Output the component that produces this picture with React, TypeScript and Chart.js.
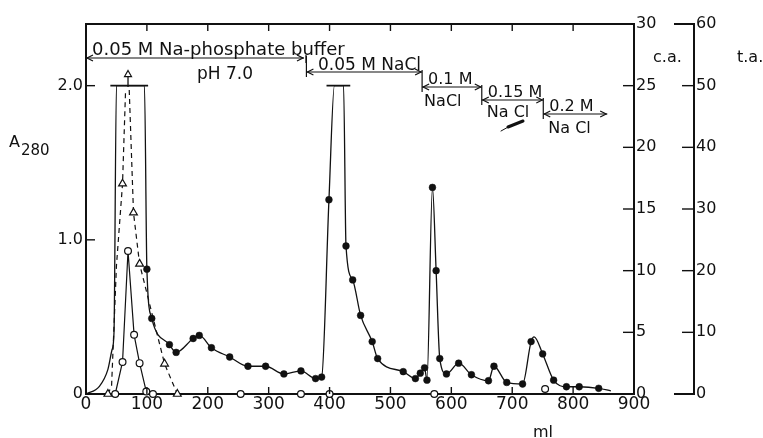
import React, { useEffect, useRef } from 'react';
import { Chart, registerables } from 'chart.js';

Chart.register(...registerables);

// ---------- data ----------
const X_TICKS = [0, 100, 200, 300, 400, 500, 600, 700, 800, 900];
const A280_TICKS = [0, 1.0, 2.0];
const CA_TICKS = [0, 5, 10, 15, 20, 25, 30];
const TA_TICKS = [0, 10, 20, 30, 40, 50, 60];

// A280 (filled circles, solid line)
const A280_ML = [100, 108, 137, 148, 176, 186, 206, 236, 266, 295, 325, 353, 377, 387, 399, 427, 438, 451, 470, 479, 521, 541, 549, 556, 560, 569, 575, 581, 592, 612, 633, 661, 670, 691, 717, 731, 750, 768, 789, 810, 842];
const A280_VAL = [0.81, 0.49, 0.32, 0.27, 0.36, 0.38, 0.30, 0.24, 0.18, 0.18, 0.13, 0.15, 0.10, 0.11, 1.26, 0.96, 0.74, 0.51, 0.34, 0.23, 0.145, 0.10, 0.135, 0.17, 0.09, 1.34, 0.80, 0.23, 0.13, 0.20, 0.125, 0.086, 0.18, 0.075, 0.065, 0.34, 0.26, 0.09, 0.047, 0.047, 0.037];
// points of the drawn curve without a marker (unsampled rise, off-scale tops, tail)
const A280_TRACE_ML = [0, 22, 36, 43, 46, 50, 96, 408, 423, 736, 862];
const A280_TRACE_VAL = [0, 0.05, 0.16, 0.29, 0.40, 2.0, 2.0, 2.0, 2.0, 0.37, 0.02];
// off-scale caps of the two clipped peaks
const A280_CLIP_FROM = [40, 395];
const A280_CLIP_TO = [102, 434];
const A280_CLIP_VAL = 2.0;

// c.a. (open circles, solid line over the first peak)
const CA_ML = [48, 60, 69, 79, 88, 99, 110, 254, 353, 400, 572, 754];
const CA_VAL = [0, 2.6, 11.6, 4.8, 2.5, 0.2, 0, 0, 0, 0, 0, 0.4];
const CA_LINKED = 7;

// t.a. (open triangles, dashed line; peak off scale)
const TA_ML = [36, 60, 78, 88, 129, 150];
const TA_VAL = [0, 34.1, 29.4, 21.1, 4.9, 0];
const TA_RISE_ML = [36, 42, 50, 60, 65];
const TA_RISE_VAL = [0, 1.3, 20.8, 34.1, 49.3];
const TA_FALL_ML = [71, 78, 88, 129, 150];
const TA_FALL_VAL = [49.3, 29.4, 21.1, 4.9, 0];
const TA_OFF_ML = 69;
const TA_OFF_VAL = [49.8, 51.8];

// elution steps
const STEP_START_ML = [0, 362, 552, 650, 751];
const STEP_END_ML = [358, 552, 650, 751, 856];
const STEP_TOP = ['0.05 M Na-phosphate buffer', '0.05 M NaCl', '0.1 M', '0.15 M', '0.2 M'];
const STEP_BOTTOM = ['pH 7.0', '', 'NaCl', 'Na Cl', 'Na Cl'];

const INK = '#111111';
const FONT = '"DejaVu Sans", sans-serif';

const pts = (xs: number[], ys: number[]) => xs.map((x, i) => ({ x, y: ys[i] }));

function arrowHead(ctx: CanvasRenderingContext2D, x: number, y: number, dir: number) {
  ctx.beginPath();
  ctx.moveTo(x - dir * 6, y - 3);
  ctx.lineTo(x, y);
  ctx.lineTo(x - dir * 6, y + 3);
  ctx.stroke();
}

const decoPlugin = {
  id: 'deco',
  afterDraw(chart: any) {
    const { ctx, chartArea: a, scales } = chart;
    const xs = scales.x, ys = scales.y, ca = scales.ca, ta = scales.ta;
    const line = (x1: number, y1: number, x2: number, y2: number) => {
      ctx.beginPath(); ctx.moveTo(x1, y1); ctx.lineTo(x2, y2); ctx.stroke();
    };
    ctx.save();
    ctx.strokeStyle = INK;
    ctx.fillStyle = INK;
    ctx.lineCap = 'butt';
    // top frame
    ctx.lineWidth = 2;
    line(a.left - 1, a.top, a.right + 1, a.top);
    // inner ticks
    ctx.lineWidth = 1.4;
    X_TICKS.slice(1, -1).forEach(v => {
      const px = xs.getPixelForValue(v);
      line(px, a.top, px, a.top + 7);
      line(px, a.bottom, px, a.bottom - 7);
    });
    A280_TICKS.slice(1).forEach(v => {
      const py = ys.getPixelForValue(v);
      line(a.left, py, a.left + 9, py);
    });
    CA_TICKS.slice(1, -1).forEach(v => {
      const py = ca.getPixelForValue(v);
      line(a.right - 11, py, a.right, py);
    });
    const tx = ta.left;
    TA_TICKS.slice(1, -1).forEach(v => {
      const py = ta.getPixelForValue(v);
      line(tx - 12, py, tx, py);
    });
    ctx.lineWidth = 2;
    line(tx - 20, ta.getPixelForValue(60), tx + 1, ta.getPixelForValue(60));
    line(tx - 20, ta.getPixelForValue(0), tx + 1, ta.getPixelForValue(0));

    // axis titles
    ctx.textAlign = 'left';
    ctx.textBaseline = 'alphabetic';
    ctx.font = `16px ${FONT}`;
    ctx.fillText('A', 9, 147);
    ctx.font = `15px ${FONT}`;
    ctx.fillText('280', 21, 155);
    ctx.font = `16px ${FONT}`;
    ctx.fillText('c.a.', 653, 62);
    ctx.fillText('t.a.', 737, 62);
    ctx.textAlign = 'center';
    ctx.fillText('ml', 543, 437);

    // elution steps
    const lineY = [58, 72, 87, 100, 114];
    const topBase = [55, 70, 84, 97, 111];
    const botBase = [79, 0, 106, 117, 133];
    const topSize = [18, 17, 16, 16, 16];
    ctx.lineWidth = 1.2;
    for (let i = 0; i < STEP_START_ML.length; i++) {
      const x1 = xs.getPixelForValue(STEP_START_ML[i]);
      const x2 = xs.getPixelForValue(STEP_END_ML[i]);
      const y = lineY[i];
      line(x1, y, x2, y);
      arrowHead(ctx, x1 + 1, y, -1);
      arrowHead(ctx, x2 - 1, y, 1);
      if (i > 0) {
        const prevY = lineY[i - 1];
        line(x1, prevY - 2, x1, y + 5);
      }
      ctx.textAlign = 'left';
      ctx.font = `${topSize[i]}px ${FONT}`;
      const tx0 = i === 0 ? 92 : i === 1 ? 318 : x1 + 6;
      ctx.fillText(STEP_TOP[i], tx0, topBase[i]);
      if (STEP_BOTTOM[i]) {
        if (i === 0) {
          ctx.font = `17px ${FONT}`;
          ctx.textAlign = 'center';
          ctx.fillText(STEP_BOTTOM[i], 225, botBase[i]);
        } else {
          ctx.font = `16px ${FONT}`;
          ctx.fillText(STEP_BOTTOM[i], x1 + (i === 2 ? 2 : 5), botBase[i]);
        }
      }
    }
    line(xs.getPixelForValue(STEP_END_ML[0]) + 2, 55, xs.getPixelForValue(STEP_END_ML[0]) + 2, 63);
    // pen stroke near "0.15 M NaCl"
    ctx.lineCap = 'round';
    ctx.lineWidth = 3;
    line(508, 127, 523, 121);
    ctx.lineWidth = 1;
    line(501, 131, 510, 126);
    ctx.restore();
  },
};

export default function App() {
  const ref = useRef<HTMLCanvasElement | null>(null);
  useEffect(() => {
    if (!ref.current) return;
    const a280Curve = [...pts(A280_TRACE_ML, A280_TRACE_VAL), ...pts(A280_ML, A280_VAL)].sort((p, q) => p.x - q.x);
    const caps: any[] = [];
    A280_CLIP_FROM.forEach((f, i) => {
      if (i > 0) caps.push({ x: (A280_CLIP_TO[i - 1] + f) / 2, y: null });
      caps.push({ x: f, y: A280_CLIP_VAL }, { x: A280_CLIP_TO[i], y: A280_CLIP_VAL });
    });
    const taCurve: any[] = [...pts(TA_RISE_ML, TA_RISE_VAL), { x: 68, y: null }, ...pts(TA_FALL_ML, TA_FALL_VAL)];
    const yAxis = (extra: any) => ({
      type: 'linear',
      grid: { display: true, drawOnChartArea: false, drawTicks: false },
      border: { display: true, color: INK, width: 2 },
      ...extra,
    });
    const chart = new Chart(ref.current, {
      type: 'line',
      data: {
        datasets: [
          { label: 'A280 pts', data: pts(A280_ML, A280_VAL), yAxisID: 'y', showLine: false, pointRadius: 3.4, pointBackgroundColor: INK, pointBorderColor: INK, pointBorderWidth: 0.5, clip: false },
          { label: 'ca pts', data: pts(CA_ML, CA_VAL), yAxisID: 'ca', showLine: false, pointRadius: 3.4, pointBackgroundColor: '#fff', pointBorderColor: INK, pointBorderWidth: 1.2, clip: false },
          { label: 'ta pts', data: pts(TA_ML, TA_VAL), yAxisID: 'ta', showLine: false, pointStyle: 'triangle', pointRadius: 4.5, pointBackgroundColor: '#fff', pointBorderColor: INK, pointBorderWidth: 1.2, clip: false },
          { label: 'ta off', data: [{ x: TA_OFF_ML, y: TA_OFF_VAL[0] }, { x: TA_OFF_ML, y: TA_OFF_VAL[1] }], yAxisID: 'ta', borderColor: INK, borderWidth: 1.3, pointStyle: 'triangle', pointRadius: [0, 4], pointBackgroundColor: '#fff', pointBorderColor: INK, pointBorderWidth: 1.2, clip: false },
          { label: 'A280', data: a280Curve, yAxisID: 'y', borderColor: INK, borderWidth: 1.3, pointRadius: 0, cubicInterpolationMode: 'monotone', clip: false },
          { label: 'A280 caps', data: caps, yAxisID: 'y', borderColor: INK, borderWidth: 1.6, pointRadius: 0, spanGaps: false, clip: false },
          { label: 'ca', data: pts(CA_ML.slice(0, CA_LINKED), CA_VAL.slice(0, CA_LINKED)), yAxisID: 'ca', borderColor: INK, borderWidth: 1.2, pointRadius: 0, clip: false },
          { label: 'ta', data: taCurve, yAxisID: 'ta', borderColor: INK, borderWidth: 1.2, borderDash: [5, 4], pointRadius: 0, spanGaps: false, clip: false },
        ],
      },
      options: {
        animation: false,
        responsive: false,
        events: [],
        parsing: true,
        layout: { padding: { top: 24, left: 0, right: 0, bottom: 0 } },
        plugins: { legend: { display: false }, tooltip: { enabled: false }, title: { display: false } },
        scales: {
          x: {
            type: 'linear', min: 0, max: 900,
            afterBuildTicks: (s: any) => { s.ticks = X_TICKS.map(v => ({ value: v })); },
            ticks: { color: INK, font: { family: FONT, size: 17 }, padding: 0, maxRotation: 0, autoSkip: false },
            grid: { display: true, drawOnChartArea: false, drawTicks: false },
            border: { display: true, color: INK, width: 2 },
            afterFit: (s: any) => { s.height = 44; },
          },
          y: yAxis({
            position: 'left', min: 0, max: 2.4,
            afterBuildTicks: (s: any) => { s.ticks = A280_TICKS.map(v => ({ value: v })); },
            ticks: { color: INK, font: { family: FONT, size: 16 }, padding: 3, callback: (v: any) => (v === 0 ? '0' : Number(v).toFixed(1)) },
            afterFit: (s: any) => { s.width = 86; },
          }),
          ca: yAxis({
            position: 'right', min: 0, max: 30, weight: 0,
            afterBuildTicks: (s: any) => { s.ticks = CA_TICKS.map(v => ({ value: v })); },
            ticks: { color: INK, font: { family: FONT, size: 16 }, padding: 2 },
            afterFit: (s: any) => { s.width = 60; },
          }),
          ta: yAxis({
            position: 'right', min: 0, max: 60, weight: 1,
            afterBuildTicks: (s: any) => { s.ticks = TA_TICKS.map(v => ({ value: v })); },
            ticks: { color: INK, font: { family: FONT, size: 16 }, padding: 2 },
            afterFit: (s: any) => { s.width = 69; },
          }),
        },
      },
      plugins: [decoPlugin],
    } as any);
    return () => chart.destroy();
  }, []);
  return (
    <div style={{ position: 'fixed', left: 0, top: 0, width: 763, height: 438, background: '#fff' }}>
      <canvas ref={ref} width={763} height={438} style={{ display: 'block' }} />
    </div>
  );
}
